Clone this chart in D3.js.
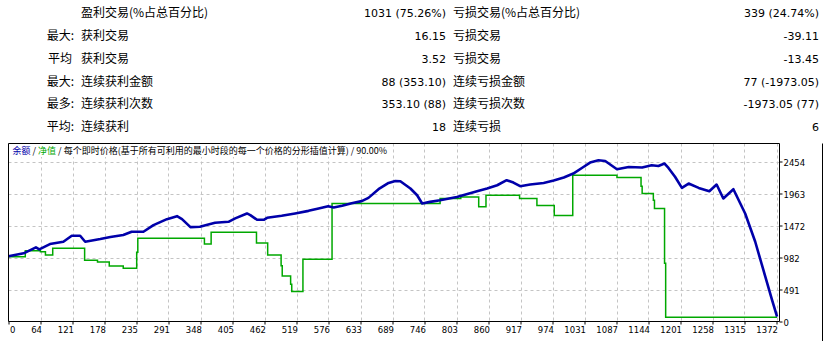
<!DOCTYPE html>
<html><head><meta charset="utf-8">
<script src="https://cdn.jsdelivr.net/npm/d3@7"></script>
<style>
html,body{margin:0;padding:0;background:#fff;}
svg{display:block;}
</style></head>
<body>
<svg id="c" width="825" height="341"></svg>
<script>
// ---- table data ----
const rowPrefix = ["", "最大:", "平均", "最大:", "最多:", "平均:"];
const winLabels = ["盈利交易(%占总百分比)", "获利交易", "获利交易", "连续获利金额", "连续获利次数", "连续获利"];
const winValues = ["1031 (75.26%)", "16.15", "3.52", "88 (353.10)", "353.10 (88)", "18"];
const lossLabels = ["亏损交易(%占总百分比)", "亏损交易", "亏损交易", "连续亏损金额", "连续亏损次数", "连续亏损"];
const lossValues = ["339 (24.74%)", "-39.11", "-13.45", "77 (-1973.05)", "-1973.05 (77)", "6"];

// ---- chart data ----
const xTickLabels = ["0","64","121","178","235","291","348","405","462","519","576","633","689","746","803","860","917","974","1031","1087","1144","1201","1258","1315","1372"];
const yTickLabels = ["0","491","982","1472","1963","2454"];
const balanceTrade = [0,27,49,55,74,98,113,128,137,164,182,205,220,241,259,283,301,310,325,342,357,369,393,405,426,432,444,456,462,488,512,536,554,571,581,596,613,631,643,661,679,691,700,718,730,739,753,771,801,837,855,873,890,902,914,932,956,974,992,1009,1027,1039,1054,1066,1087,1108,1132,1149,1161,1172,1179,1191,1203,1215,1233,1252,1265,1277,1295,1316,1334,1352,1364,1373];
const balance = [1000,1046,1137,1107,1188,1223,1315,1315,1223,1264,1295,1326,1376,1376,1478,1570,1616,1570,1448,1453,1489,1514,1529,1581,1657,1631,1560,1560,1590,1621,1657,1697,1734,1769,1749,1774,1815,1846,1896,2029,2125,2156,2151,2040,1937,1810,1835,1861,1911,1998,2040,2090,2167,2131,2075,2101,2125,2162,2208,2269,2370,2437,2472,2462,2335,2370,2361,2396,2386,2422,2355,2217,2049,2116,2049,1998,2101,1887,2029,1657,1223,688,332,76];
const equityTrade = [0,30,57,66,79,136,159,180,205,229,231,350,362,443,463,487,489,504,506,526,578,771,808,840,853,913,944,975,1008,1087,1130,1132,1152,1154,1172,1174,1373];
const equity = [995,1086,1070,1020,1122,939,913,852,816,1061,1275,1188,1367,1203,1020,856,699,572,459,954,1810,1887,1911,1759,1937,1887,1780,1627,2243,2208,2075,1963,1861,1734,893,65,65];

const svg = d3.select("#c");
const NUMF = "'DejaVu Sans', sans-serif";
const CJKF = "'Noto Sans CJK SC', 'DejaVu Sans', sans-serif";

// ---- table ----
const rowY = [17, 40, 62.5, 85.5, 108, 130.5];
const tbl = svg.append("g").attr("fill", "#000");
rowY.forEach((yy, i) => {
  if (rowPrefix[i]) tbl.append("text").attr("x", i === 2 ? 72 : 74).attr("y", yy).attr("text-anchor", "end")
    .attr("font-family", CJKF).attr("font-size", 12).text(rowPrefix[i]);
  tbl.append("text").attr("x", 81).attr("y", yy).attr("font-family", CJKF).attr("font-size", 12).text(winLabels[i]);
  tbl.append("text").attr("x", 446).attr("y", yy).attr("text-anchor", "end").attr("font-family", NUMF).attr("font-size", 11).text(winValues[i]);
  tbl.append("text").attr("x", 453).attr("y", yy).attr("font-family", CJKF).attr("font-size", 12).text(lossLabels[i]);
  tbl.append("text").attr("x", 819).attr("y", yy).attr("text-anchor", "end").attr("font-family", NUMF).attr("font-size", 11).text(lossValues[i]);
});

// ---- chart ----
const L = 8.5, R = 779.5, T = 143.5, B = 321.5;
const xMax = 1372;
const x = d3.scaleLinear().domain([0, xMax]).range([8.5, 776.5]);
const yTop = 2454;
const y = d3.scaleLinear().domain([0, yTop]).range([321.5, 161.5]);
const xTicks = d3.range(25).map(i => i * xMax / 24);
const yTicks = d3.range(6).map(i => i * yTop / 5);

// grid
const grid = svg.append("g").attr("stroke", "#c4c4c4").attr("stroke-width", 1).attr("stroke-dasharray", "3,3");
xTicks.slice(1).forEach(t => grid.append("line").attr("x1", Math.round(x(t)) + 0.5).attr("x2", Math.round(x(t)) + 0.5).attr("y1", T).attr("y2", B));
yTicks.slice(1).forEach(t => grid.append("line").attr("x1", L).attr("x2", R).attr("y1", Math.round(y(t)) + 0.5).attr("y2", Math.round(y(t)) + 0.5));

// title with white background
const tg = svg.append("g");
const bgRect = tg.append("rect").attr("fill", "#fff");
const title = tg.append("text").attr("x", 12.5).attr("y", 154).attr("font-family", CJKF).attr("font-size", 9).attr("fill", "#000");
title.append("tspan").attr("fill", "#0000AA").text("余额");
title.append("tspan").text(" / ");
title.append("tspan").attr("fill", "#00A800").text("净值");
title.append("tspan").text(" / 每个即时价格(基于所有可利用的最小时段的每一个价格的分形插值计算) / 90.00%");
const bb = title.node().getBBox();
bgRect.attr("x", bb.x - 1).attr("y", bb.y).attr("width", bb.width + 2).attr("height", bb.height);

// lines
const eqLine = d3.line().x(d => x(d[0])).y(d => y(d[1])).curve(d3.curveStepAfter);
svg.append("path").datum(equityTrade.map((t, i) => [t, equity[i]])).attr("d", eqLine)
  .attr("fill", "none").attr("stroke", "#00A800").attr("stroke-width", 1.5);
const balLine = d3.line().x(d => x(d[0])).y(d => y(d[1]));
svg.append("path").datum(balanceTrade.map((t, i) => [t, balance[i]])).attr("d", balLine)
  .attr("fill", "none").attr("stroke", "#0000AA").attr("stroke-width", 2.6).attr("stroke-linejoin", "round");

// frame
const fr = svg.append("g").attr("stroke", "#000").attr("stroke-width", 1).attr("fill", "none");
fr.append("path").attr("d", `M${L},${T}H${R}V${B}H${L}Z`);
fr.append("line").attr("x1", 822.5).attr("x2", 822.5).attr("y1", T).attr("y2", 341);

// axes
const xAxis = d3.axisBottom(x).tickValues(xTicks).tickFormat((d, i) => xTickLabels[i]).tickSize(3).tickPadding(2);
const gx = svg.append("g").attr("transform", `translate(0,${B})`).call(xAxis);
gx.select(".domain").remove();
gx.selectAll(".tick line").attr("stroke", "#000");
gx.selectAll(".tick text").attr("font-family", NUMF).attr("font-size", 8.5).attr("fill", "#000")
  .attr("text-anchor", (d, i) => i === 0 ? "start" : "end").attr("dx", 1);

const yAxis = d3.axisRight(y).tickValues(yTicks).tickFormat((d, i) => yTickLabels[i]).tickSize(3).tickPadding(1);
const gy = svg.append("g").attr("transform", `translate(${R},0)`).call(yAxis);
gy.select(".domain").remove();
gy.selectAll(".tick line").attr("stroke", "#000");
gy.selectAll(".tick text").attr("font-family", NUMF).attr("font-size", 8.5).attr("fill", "#000").attr("dy", "0.45em");
</script>
</body></html>
